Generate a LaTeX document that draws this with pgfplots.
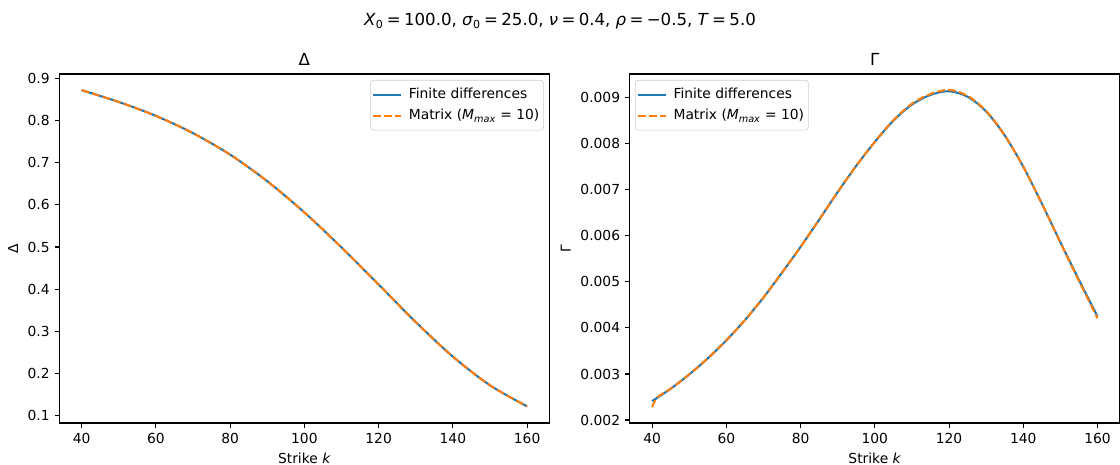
\documentclass[border=0pt]{standalone}
\usepackage{fontspec}
\setmainfont{DejaVu Sans}
\usepackage{pgfplots}
\pgfplotsset{compat=1.18}
\definecolor{mblue}{HTML}{1F77B4}
\definecolor{morange}{HTML}{FF7F0E}

\pgfplotstableread{
k d
40 0.872
50 0.844
60 0.811
70 0.770
80 0.719
90 0.656
100 0.582
110 0.499
120 0.411
130 0.322
140 0.240
150 0.172
160 0.122
}\deltatab

\pgfplotstableread{
k g
40 0.00241
45 0.00268
50 0.00299
55 0.00334
60 0.00373
65 0.00417
70 0.00466
75 0.00520
80 0.00576
85 0.00635
90 0.00695
95 0.00752
100 0.00804
105 0.00850
110 0.00885
115 0.00906
120 0.00914
125 0.00902
130 0.00870
135 0.00818
140 0.00750
145 0.00670
150 0.00586
155 0.00504
160 0.00425
}\gammafd

\pgfplotstableread{
k g
40 0.00228
41.5 0.00250
45 0.00268
50 0.00299
55 0.00334
60 0.00373
65 0.00417
70 0.00466
75 0.00520
80 0.00576
85 0.00635
90 0.00695
95 0.00752
100 0.00804
105 0.00851
110 0.00887
115 0.00908
120 0.00917
125 0.00904
130 0.00871
135 0.00818
140 0.00750
145 0.00670
150 0.00585
155 0.00502
160 0.00421
}\gammamat

\pgfplotsset{
  mystyle/.style={
    scale only axis, width=352.8bp, height=251.28bp,
    xmin=34, xmax=166,
    xtick={40,60,...,160},
    tick align=outside, xtick pos=lower, ytick pos=left,
    major tick length=3.5bp,
    every tick/.style={line width=0.8bp, black},
    axis line style={line width=0.8bp},
    /pgf/number format/assume math mode=true,
    tick label style={font=\fontsize{10}{12}\selectfont},
    xlabel={Strike \textit{k}},
    label style={font=\fontsize{10}{12}\selectfont},
    title style={font=\fontsize{12}{14}\selectfont, at={(0.5,1)}, anchor=base},
    legend cell align=left,
    legend style={draw=black!20, rounded corners=2bp, fill=white, fill opacity=0.8,
      text opacity=1, font=\fontsize{10}{12}\selectfont, row sep=2.2bp, column sep=3bp,
      inner xsep=1bp, inner ysep=3.8bp, nodes={inner xsep=2bp}},
    legend image code/.code={\draw[##1] (0bp,0bp) -- (20bp,0bp);},
  },
  fdline/.style={mblue, line width=1.5bp, smooth},
  matline/.style={morange, line width=1.5bp, smooth, dash pattern=on 5.55bp off 2.4bp},
}

\begin{document}
\begin{tikzpicture}
\path[use as bounding box] (0,0) rectangle (806.4bp,334.8bp);
\node[font=\fontsize{12}{14}\selectfont] at (403.2bp,319.4bp)
  {\textit{X}\textsubscript{0}\hspace{0.2em}=\hspace{0.2em}100.0, \textit{σ}\textsubscript{0}\hspace{0.2em}=\hspace{0.2em}25.0, \textit{ν}\hspace{0.2em}=\hspace{0.2em}0.4, \textit{ρ}\hspace{0.2em}=\hspace{0.2em}−0.5, \textit{T}\hspace{0.2em}=\hspace{0.2em}5.0};

\begin{axis}[mystyle,
  at={(42.77bp,30.24bp)}, anchor=south west,
  ymin=0.0826, ymax=0.9104,
  ytick={0.1,0.2,...,0.9},
  yticklabel style={/pgf/number format/.cd, fixed, fixed zerofill, precision=1},
  ylabel={Δ}, title={Δ},
  legend style={at={(1,1)}, anchor=north east, xshift=-4bp, yshift=-4.3bp},
]
\addplot[fdline] table[x=k,y=d] {\deltatab};
\addlegendentry{Finite differences}
\addplot[matline] table[x=k,y=d] {\deltatab};
\addlegendentry{Matrix (\textit{M}\textsubscript{\textit{max}} = 10)}
\end{axis}

\begin{axis}[mystyle,
  at={(453.46bp,30.24bp)}, anchor=south west,
  ymin=0.001936, ymax=0.009514,
  ytick={0.002,0.003,...,0.009},
  scaled y ticks=false,
  yticklabel style={/pgf/number format/.cd, fixed, fixed zerofill, precision=3},
  ylabel={Γ}, title={Γ},
  legend style={at={(0,1)}, anchor=north west, xshift=3.8bp, yshift=-4.3bp},
]
\addplot[fdline] table[x=k,y=g] {\gammafd};
\addlegendentry{Finite differences}
\addplot[matline] table[x=k,y=g] {\gammamat};
\addlegendentry{Matrix (\textit{M}\textsubscript{\textit{max}} = 10)}
\end{axis}
\end{tikzpicture}
\end{document}
